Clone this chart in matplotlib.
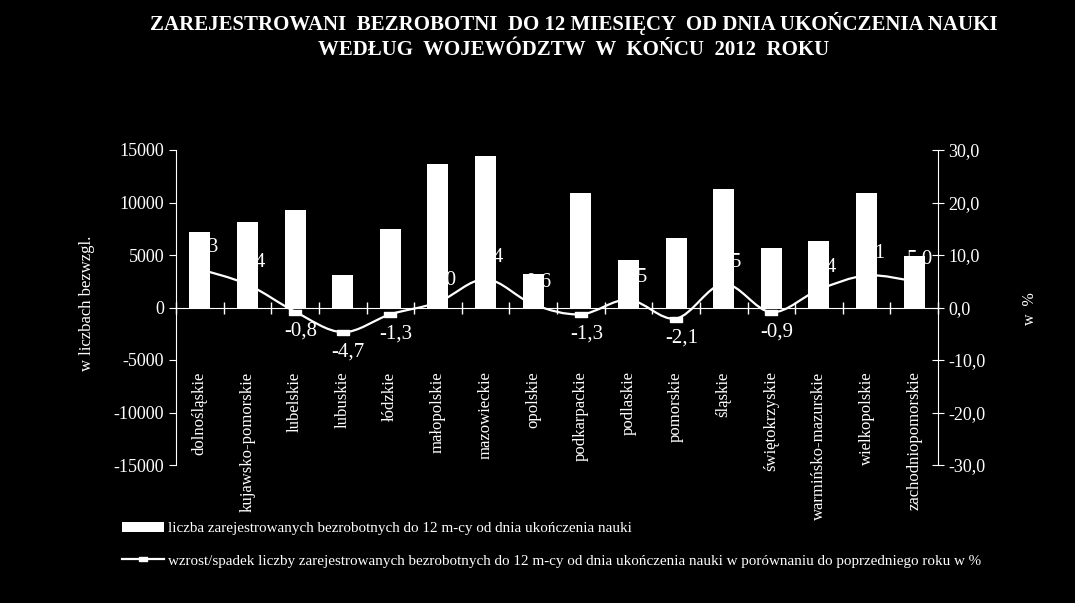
# Bezrobotni do 12 m-cy od ukończenia nauki wg województw, koniec 2012

import matplotlib
matplotlib.use('Agg')
import matplotlib.pyplot as plt
import numpy as np
from matplotlib.path import Path
from matplotlib.patches import PathPatch, Rectangle
from matplotlib.lines import Line2D
from matplotlib.ticker import FuncFormatter

# Data
wojewodztwa = ['dolnośląskie', 'kujawsko-pomorskie', 'lubelskie', 'lubuskie', 'łódzkie',
               'małopolskie', 'mazowieckie', 'opolskie', 'podkarpackie', 'podlaskie',
               'pomorskie', 'śląskie', 'świętokrzyskie', 'warmińsko-mazurskie',
               'wielkopolskie', 'zachodniopomorskie']
liczba = [7200, 8100, 9300, 3050, 7500, 13700, 14400, 3150, 10950, 4550,
          6650, 11250, 5700, 6300, 10950, 4950]
zmiana = [7.3, 4.4, -0.8, -4.7, -1.3, 1.0, 5.4, 0.6, -1.3, 1.5,
          -2.1, 4.5, -0.9, 3.4, 6.1, 5.0]

left_ticks = [-15000, -10000, -5000, 0, 5000, 10000, 15000]
right_ticks = [-30, -20, -10, 0, 10, 20, 30]

title = ('ZAREJESTROWANI  BEZROBOTNI  DO 12 MIESIĘCY  OD DNIA UKOŃCZENIA NAUKI\n'
         'WEDŁUG  WOJEWÓDZTW  W  KOŃCU  2012  ROKU')
label_bars = 'liczba zarejestrowanych bezrobotnych do 12 m-cy od dnia ukończenia nauki'
label_line = ('wzrost/spadek liczby zarejestrowanych bezrobotnych do 12 m-cy od dnia '
              'ukończenia nauki w porównaniu do poprzedniego roku w %')

plt.rcParams['font.family'] = ['Liberation Serif', 'DejaVu Serif']
plt.rcParams['text.color'] = 'white'
plt.rcParams['axes.unicode_minus'] = False

fig = plt.figure(figsize=(10.75, 6.03), dpi=100, facecolor='black')
ax = fig.add_axes([176 / 1075, 1 - 465 / 603, (938 - 176) / 1075, 315 / 603])
ax2 = ax.twinx()
ax.set_zorder(ax2.get_zorder() + 1)
ax.patch.set_visible(False)
ax2.set_facecolor('black')

x = np.arange(len(wojewodztwa))

# bars
ax.bar(x, liczba, width=0.44, color='white', zorder=3)
ax.set_ylim(-15000, 15000)
ax.set_xlim(-0.5, len(x) - 0.5)
ax.set_yticks(left_ticks)
ax.set_xticks(x, wojewodztwa)
ax.set_xticks(np.arange(len(x) + 1) - 0.5, minor=True)
ax.tick_params(axis='x', which='major', length=0, pad=46, labelsize=12,
               labelcolor='white', labelrotation=90)
ax.tick_params(axis='x', which='minor', direction='inout', length=8, color='white', width=1)
ax.tick_params(axis='y', colors='white', labelsize=13, length=5, direction='out')
ax.spines['bottom'].set_position(('data', 0))
for s in ['top', 'right']:
    ax.spines[s].set_visible(False)
ax.spines['bottom'].set_color('white')
ax.spines['left'].set_color('white')

# smoothed line (Catmull-Rom -> cubic Bezier)
pts = np.column_stack([x, zmiana]).astype(float)
ext = np.vstack([pts[0], pts, pts[-1]])
verts = [tuple(pts[0])]
codes = [Path.MOVETO]
for i in range(len(pts) - 1):
    p0, p1, p2, p3 = ext[i], ext[i + 1], ext[i + 2], ext[i + 3]
    verts += [tuple(p1 + (p2 - p0) / 6), tuple(p2 - (p3 - p1) / 6), tuple(p2)]
    codes += [Path.CURVE4] * 3
ax2.add_patch(PathPatch(Path(verts, codes), facecolor='none', edgecolor='white', lw=1.6))

dash = [(-1, -0.45), (1, -0.45), (1, 0.45), (-1, 0.45), (-1, -0.45)]
ax2.plot(x, zmiana, ls='none', marker=dash, markersize=8, color='white')
for xi, v in zip(x, zmiana):
    off = 16 if v >= 0 else -14
    ax2.annotate(f'{v:.1f}'.replace('.', ','), (xi, v), xytext=(4, off),
                 textcoords='offset points', ha='center', va='center',
                 fontsize=15, color='white')

ax2.set_ylim(-30, 30)
ax2.set_yticks(right_ticks)
ax2.yaxis.set_major_formatter(FuncFormatter(lambda v, p: f'{v:.1f}'.replace('.', ',')))
ax2.tick_params(axis='y', colors='white', labelsize=13, length=8, direction='inout')
for s in ['top', 'left', 'bottom']:
    ax2.spines[s].set_visible(False)
ax2.spines['right'].set_color('white')

fig.text(574 / 1075, 1 - 12 / 603, title, ha='center', va='top', fontsize=15,
         fontweight='bold', linespacing=1.35)
fig.text(87 / 1075, 1 - 303 / 603, 'w liczbach bezwzgl.', rotation=90,
         ha='center', va='center', fontsize=12)
fig.text(1030 / 1075, 1 - 309 / 603, 'w  %', rotation=90,
         ha='center', va='center', fontsize=11.5)

handles = [Rectangle((0, 0), 1, 1, facecolor='white'),
           Line2D([], [], color='white', lw=1.6, marker=dash, markersize=6)]
fig.legend(handles, [label_bars, label_line], loc='upper left',
           bbox_to_anchor=(108 / 1075, 1 - 508 / 603), frameon=False,
           fontsize=10.9, handlelength=2.8, handletextpad=0.25, labelspacing=1.25,
           labelcolor='white')

fig.savefig('out.png', dpi=100, facecolor='black')
